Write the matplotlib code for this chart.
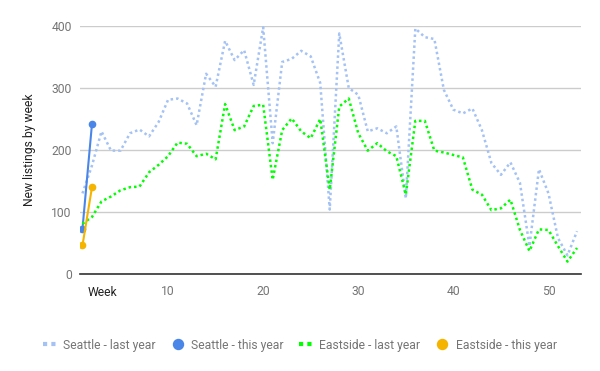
import numpy as np
import matplotlib
matplotlib.use('Agg')
import matplotlib.pyplot as plt
from matplotlib.lines import Line2D

plt.rcParams['font.family'] = ['Roboto', 'DejaVu Sans']

weeks = np.arange(1, 54)
this_weeks = [1, 2]

seattle_last = [130, 175, 230, 199, 199, 227, 233, 222, 245, 281,
                283, 275, 240, 323, 302, 376, 345, 361, 305, 398,
                211, 342, 347, 360, 351, 308, 104, 388, 300, 289,
                230, 235, 227, 238, 122, 396, 382, 379, 297, 265,
                259, 267, 232, 179, 160, 180, 147, 45, 169, 130,
                58, 30, 69]
eastside_last = [81, 92, 117, 125, 135, 140, 141, 164, 176, 190,
                 212, 210, 190, 194, 185, 274, 232, 238, 271, 273,
                 152, 232, 251, 230, 219, 250, 136, 270, 283, 227,
                 199, 211, 198, 190, 128, 247, 247, 199, 196, 192,
                 188, 136, 128, 103, 106, 120, 71, 37, 72, 71,
                 45, 20, 42]
seattle_this = [73, 242]
eastside_this = [46, 140]

yticks = [0, 100, 200, 300, 400]
xticks = [10, 20, 30, 40, 50]

c_sea_last = '#a4c2f4'
c_sea_this = '#4a86e8'
c_east_last = '#00ff00'
c_east_this = '#f4b400'
fs = 8.7

fig = plt.figure(figsize=(6, 3.71), dpi=100)
ax = fig.add_axes([80 / 600, 1 - 274 / 371, 501 / 600, 248 / 371])

ax.plot(weeks, seattle_last, color=c_sea_last, lw=1.8, ls=(0, (1, 1.2)))
ax.plot(this_weeks, seattle_this, color=c_sea_this, lw=1.5, marker='o', ms=4.5)
ax.plot(weeks, eastside_last, color=c_east_last, lw=1.8, ls=(0, (1, 1.2)))
ax.plot(this_weeks, eastside_this, color=c_east_this, lw=1.5, marker='o', ms=4.5)

ax.set_xlim(0.74, 53.42)
ax.set_ylim(0, 400)
ax.set_yticks(yticks)
ax.set_xticks(xticks)
ax.grid(axis='y', color='#cccccc', lw=1)
ax.set_axisbelow(True)
for s in ['top', 'right', 'left']:
    ax.spines[s].set_visible(False)
ax.spines['bottom'].set_color('#333333')
ax.spines['bottom'].set_linewidth(1.2)
ax.spines['bottom'].set_zorder(5)
ax.tick_params(axis='both', length=0, labelsize=fs, labelcolor='#757575')
ax.tick_params(axis='x', pad=8)
ax.tick_params(axis='y', pad=6)

ax.set_ylabel('New listings by week', fontsize=fs, color='#222222')
ax.yaxis.set_label_coords(-0.088, 0.5)
ax.set_xlabel('Week', fontsize=fs, color='#222222')
ax.xaxis.set_label_coords(0.045, -0.05)

handles = [
    Line2D([], [], color=c_sea_last, lw=3, ls=(0, (1, 1))),
    Line2D([], [], color=c_sea_this, lw=0, marker='o', ms=7.2),
    Line2D([], [], color=c_east_last, lw=3, ls=(0, (1, 1))),
    Line2D([], [], color=c_east_this, lw=0, marker='o', ms=7.2),
]
labels = ['Seattle - last year', 'Seattle - this year',
          'Eastside - last year', 'Eastside - this year']
fig.legend(handles, labels, loc='center', bbox_to_anchor=(0.5, 1 - 345 / 371),
           ncol=4, frameon=False, fontsize=fs, labelcolor='#757575',
           handlelength=1.05, handletextpad=0.6, columnspacing=1.3)

fig.savefig('out.png', dpi=100)
